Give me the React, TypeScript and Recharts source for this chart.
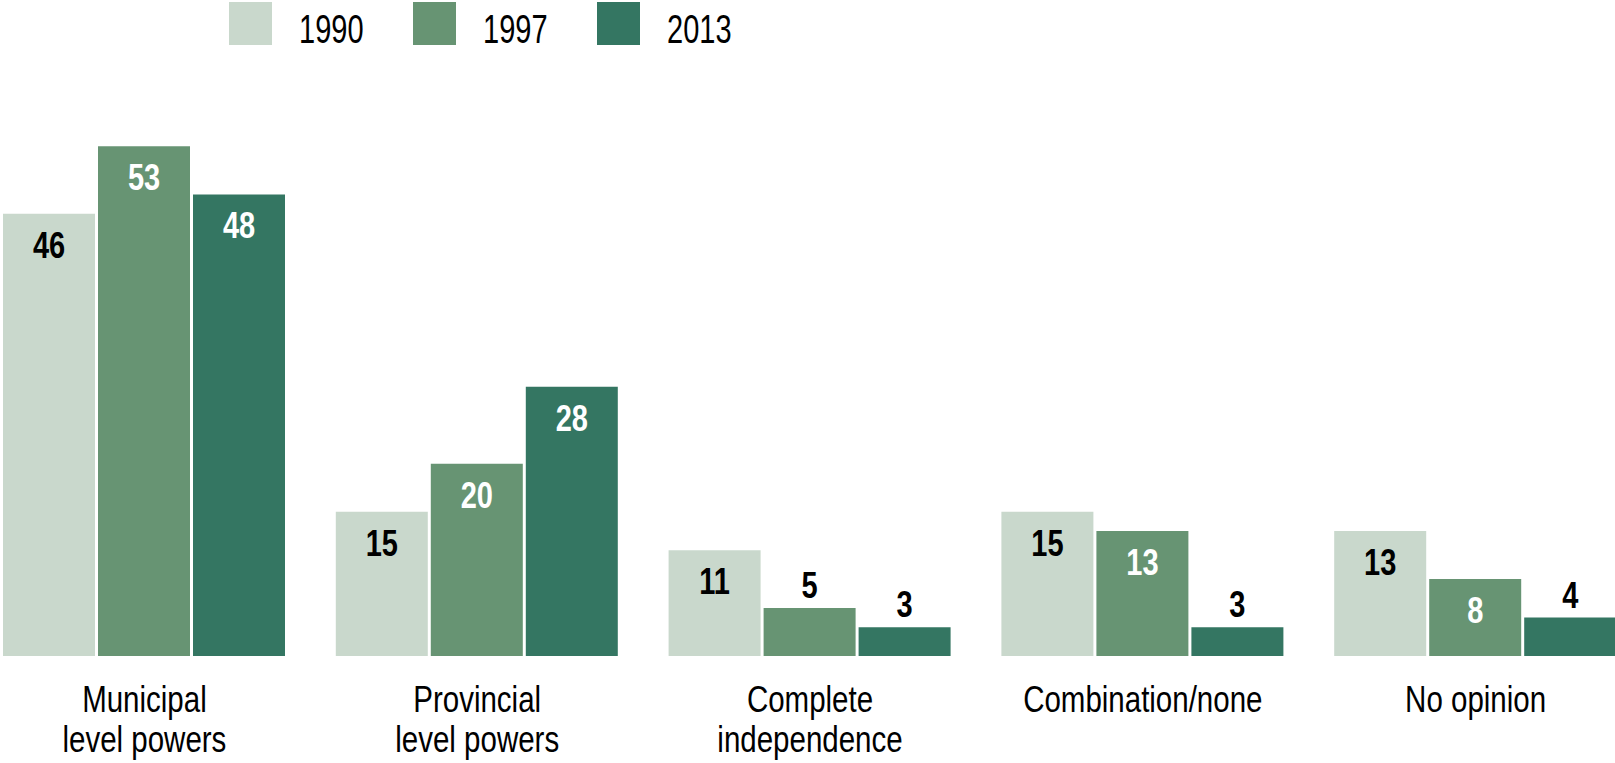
import React from 'react';
import { BarChart, Bar, XAxis, YAxis, LabelList } from 'recharts';

// survey answers, percent
const categories = ['Municipal\nlevel powers', 'Provincial\nlevel powers', 'Complete\nindependence', 'Combination/none', 'No opinion'];
const years = ['1990', '1997', '2013'];
const v1990 = [46, 15, 11, 15, 13];
const v1997 = [53, 20, 5, 13, 8];
const v2013 = [48, 28, 3, 3, 4];

const COLORS = ['#c9d8cc', '#679473', '#347662'];
const INSIDE_LABEL = ['#000000', '#ffffff', '#ffffff'];
const FONT = '"Liberation Sans", Arial, sans-serif';

const data = categories.map((name, i) => ({
    name,
    y1990: v1990[i],
    y1997: v1997[i],
    y2013: v2013[i],
}));

const StretchText: React.FC<{ x: number; y: number; size: number; sy: number; bold?: boolean; fill?: string; anchor?: string; children: React.ReactNode }> = ({ x, y, size, sy, bold, fill = '#000', anchor = 'middle', children }) => (
    <text
        transform={`translate(${x},${y}) scale(1,${sy})`}
        textAnchor={anchor}
        fontFamily={FONT}
        fontSize={size}
        fontWeight={bold ? 700 : 400}
        fill={fill}
    >
        {children}
    </text>
);

const CategoryTick = (props: any) => {
    const { x, y, payload } = props;
    const lines = String(payload.value).split('\n');
    return (
        <g>
            {lines.map((l, i) => (
                <StretchText key={i} x={x} y={y + 56 + i * 40} size={29.5} sy={1.25}>{l}</StretchText>
            ))}
        </g>
    );
};

const valueLabel = (series: number) => (props: any) => {
    const x = Number(props.x), y = Number(props.y), w = Number(props.width);
    const v = Number(props.value);
    const inside = v >= 8;
    return (
        <StretchText
            x={x + w / 2}
            y={inside ? y + 44 : y - 10}
            size={29}
            sy={1.25}
            bold
            fill={inside ? INSIDE_LABEL[series] : '#000000'}
        >
            {v}
        </StretchText>
    );
};

const Legend: React.FC = () => (
    <svg width={1615} height={60} style={{ position: 'absolute', left: 0, top: 0 }}>
        {years.map((yr, i) => (
            <g key={yr}>
                <rect x={229 + i * 184} y={2} width={43} height={43} fill={COLORS[i]} />
                <StretchText x={299 + i * 184} y={43} size={29} sy={1.42} anchor="start">{yr}</StretchText>
            </g>
        ))}
    </svg>
);

export default function App() {
    const keys = ['y1990', 'y1997', 'y2013'];
    return (
        <div style={{ position: 'absolute', left: 0, top: 0, width: 1615, height: 763, overflow: 'hidden', background: '#fff' }}>
            <div style={{ position: 'absolute', left: -22, top: 0 }}>
                <BarChart width={1664} height={763} data={data} margin={{ top: 79, right: 0, bottom: 0, left: 0 }} barSize={92} barGap={3}>
                    <XAxis dataKey="name" height={107} axisLine={false} tickLine={false} tickSize={0} tickMargin={0} interval={0} tick={<CategoryTick />} />
                    <YAxis hide domain={[0, 60]} />
                    {keys.map((k, i) => (
                        <Bar key={k} dataKey={k} name={years[i]} fill={COLORS[i]} isAnimationActive={false}>
                            <LabelList dataKey={k} content={valueLabel(i)} />
                        </Bar>
                    ))}
                </BarChart>
            </div>
            <Legend />
        </div>
    );
}
